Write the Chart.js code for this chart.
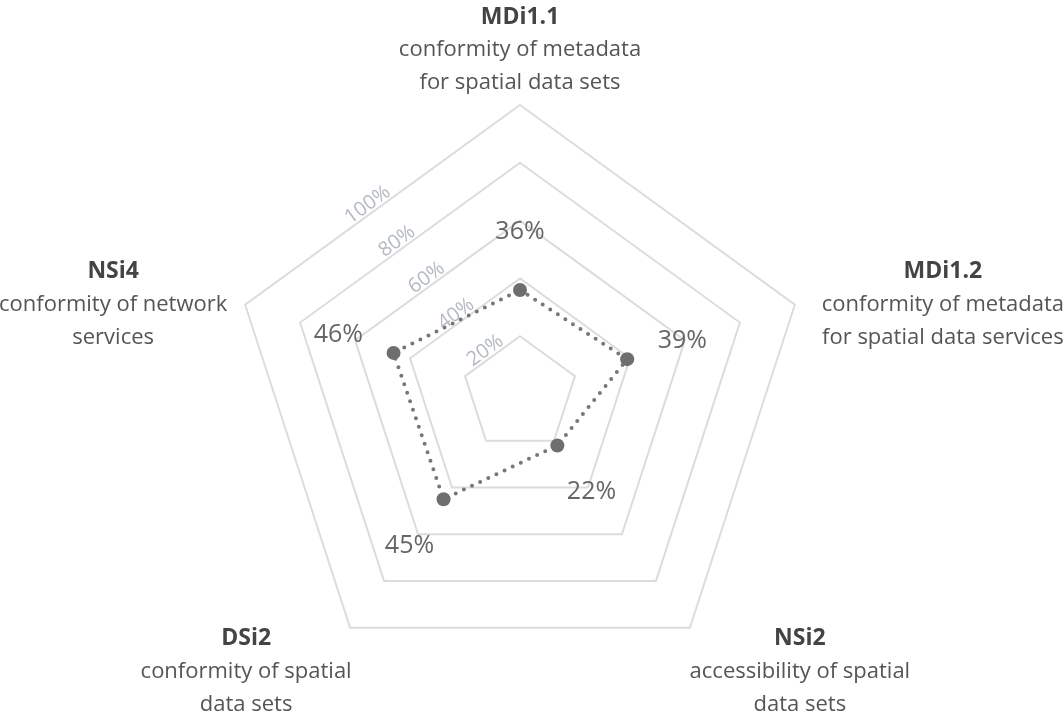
<!DOCTYPE html>
<html>
<head>
<meta charset="utf-8">
<script src="https://cdn.jsdelivr.net/npm/chart.js@4"></script>
<style>
  html, body { margin: 0; padding: 0; background: #fff; }
  #wrap { width: 1064px; height: 715px; position: relative; }
</style>
</head>
<body>
<div id="wrap"><canvas id="radarChart"></canvas></div>
<script>
// Indicator codes and descriptions, clockwise from the top
const codes = ["MDi1.1", "MDi1.2", "NSi2", "DSi2", "NSi4"];
const descriptions = [
    ["conformity of metadata", "for spatial data sets"],
    ["conformity of metadata", "for spatial data services"],
    ["accessibility of spatial", "data sets"],
    ["conformity of spatial", "data sets"],
    ["conformity of network", "services"]
];
const scores = [36, 39, 22, 45, 46]; // percent
const tickValues = [20, 40, 60, 80, 100];

const FONT = "'Open Sans', sans-serif";

// label block placement relative to each outer vertex
const labelOffsets = [
    { dx: 0, dy: -88 },
    { dx: 148, dy: -33 },
    { dx: 110, dy: 11 },
    { dx: -104, dy: 11 },
    { dx: -132, dy: -33 }
];

const radarDecor = {
    id: "radarDecor",
    afterDatasetsDraw(chart) {
        const ctx = chart.ctx;
        const scale = chart.scales.r;
        ctx.save();

        // tick labels sitting on the edge between the top and left axes
        ctx.fillStyle = "#b4b9c2";
        ctx.font = "20px " + FONT;
        ctx.textAlign = "center";
        ctx.textBaseline = "alphabetic";
        tickValues.forEach(v => {
            const d = scale.getDistanceFromCenterForValue(v);
            const a = scale.getPointPosition(0, d);
            const b = scale.getPointPosition(4, d);
            ctx.save();
            ctx.translate((a.x + b.x) / 2, (a.y + b.y) / 2);
            ctx.rotate(-36 * Math.PI / 180);
            ctx.fillText(v + "%", -v * 0.12, -3);
            ctx.restore();
        });

        // value labels just beyond each point
        ctx.fillStyle = "#666";
        ctx.font = "25px " + FONT;
        ctx.textBaseline = "middle";
        scores.forEach((v, i) => {
            const d = scale.getDistanceFromCenterForValue(v) + 58;
            const p = scale.getPointPosition(i, d);
            ctx.fillText(v + "%", p.x, p.y);
        });

        // axis titles
        const outer = scale.getDistanceFromCenterForValue(100);
        codes.forEach((code, i) => {
            const v = scale.getPointPosition(i, outer);
            const x = v.x + labelOffsets[i].dx;
            const y = v.y + labelOffsets[i].dy;
            ctx.fillStyle = "#444";
            ctx.font = "bold 23px " + FONT;
            ctx.fillText(code, x, y);
            ctx.fillStyle = "#555";
            ctx.font = "22px " + FONT;
            descriptions[i].forEach((line, j) => {
                ctx.fillText(line, x, y + 33 * (j + 1));
            });
        });
        ctx.restore();
    }
};

new Chart(document.getElementById("radarChart"), {
    type: "radar",
    data: {
        labels: codes,
        datasets: [{
            data: scores,
            fill: false,
            borderColor: "#777",
            borderWidth: 4,
            borderDash: [0, 9],
            borderCapStyle: "round",
            pointRadius: 7,
            pointBackgroundColor: "#6e6e6e",
            pointBorderWidth: 0
        }]
    },
    options: {
        responsive: true,
        maintainAspectRatio: false,
        animation: false,
        layout: { padding: { left: 231, right: 255, top: 105, bottom: 32 } },
        plugins: { legend: { display: false }, tooltip: { enabled: false } },
        scales: {
            r: {
                min: 0,
                max: 100,
                ticks: { display: false, stepSize: 20 },
                pointLabels: { display: false },
                angleLines: { display: false },
                grid: { color: "#dcdcdc", lineWidth: 2 }
            }
        }
    },
    plugins: [radarDecor]
});
</script>
</body>
</html>
